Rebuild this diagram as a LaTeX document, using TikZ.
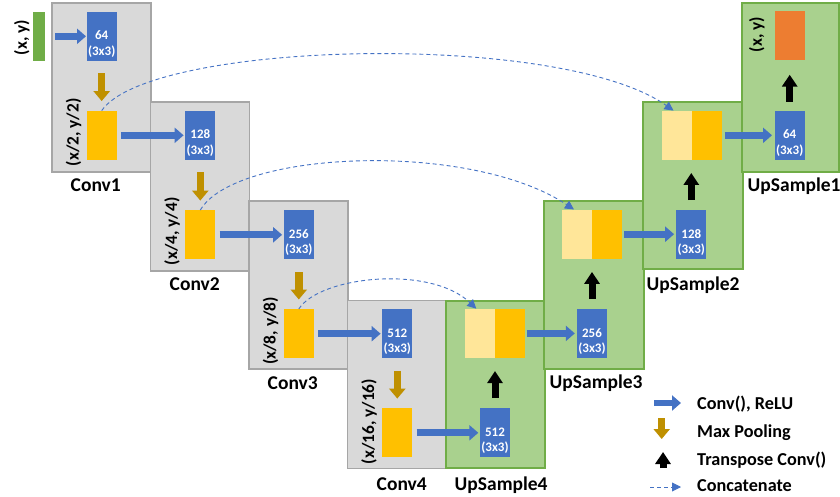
\documentclass[tikz,border=0pt]{standalone}
\usepackage{fontspec}
\setmainfont{Carlito}
\usetikzlibrary{arrows.meta}
\definecolor{cblue}{HTML}{4472C4}
\definecolor{cyel}{HTML}{FFC000}
\definecolor{clight}{HTML}{FFE699}
\definecolor{cbrown}{HTML}{BF9000}
\definecolor{cgreen}{HTML}{A9D18E}
\definecolor{cgreenb}{HTML}{70AD47}
\definecolor{cgrey}{HTML}{D9D9D9}
\definecolor{cgreyb}{HTML}{A6A6A6}
\definecolor{corange}{HTML}{ED7D31}
\newcommand\filtertext[1]{\raisebox{-8pt}[\height][\depth]{\begin{tabular}{@{}c@{}}#1\\(3x3)\end{tabular}}}
\begin{document}
\begin{tikzpicture}[x=1pt,y=-1pt,
  greybox/.style={draw=cgreyb, fill=cgrey, line width=1.6pt, anchor=north west, inner sep=0},
  greenbox/.style={draw=cgreenb, fill=cgreen, line width=1.6pt, anchor=north west, inner sep=0},
  convbox/.style={fill=cblue, minimum width=30pt, minimum height=49pt, inner sep=0, text=white,
     font=\fontsize{13}{15.5}\selectfont\bfseries},
  featbox/.style={fill=cyel, minimum width=30pt, minimum height=49pt, inner sep=0},
  catbox/.style={fill=clight, minimum width=60pt, minimum height=49pt, inner sep=0},
  inbox/.style={fill=cgreenb, minimum width=12pt, minimum height=49pt, inner sep=0},
  outbox/.style={fill=corange, minimum width=30pt, minimum height=49pt, inner sep=0},
  stagelabel/.style={anchor=base west, inner sep=0, font=\fontsize{19.5}{21}\selectfont\bfseries},
  legendlabel/.style={anchor=base west, inner sep=0, font=\fontsize{18.2}{20}\selectfont\bfseries},
  dimlabel/.style={rotate=90, anchor=west, inner sep=0, font=\fontsize{17.3}{20}\selectfont\bfseries},
  convarrow/.style={draw=cblue, line width=7pt, -{Triangle[length=9pt,width=15pt]}},
  poolarrow/.style={draw=cbrown, line width=7.5pt, -{Triangle[length=10pt,width=16pt]}},
  uparrow/.style={draw=black, line width=7pt, -{Triangle[length=12pt,width=15pt]}},
  catarrow/.style={draw=cblue, line width=0.9pt, dash pattern=on 4pt off 3pt, -{Triangle[length=9pt,width=9pt]}},
]
\useasboundingbox (0,0) rectangle (840,497);
% stage boxes
\node[greybox, minimum width=99pt, minimum height=169pt] (c1) at (51,2) {};
\node[greybox, minimum width=99pt, minimum height=169pt] (c2) at (149.5,101) {};
\node[greybox, minimum width=99pt, minimum height=168pt] (c3) at (248,200) {};
\node[greybox, minimum width=98.5pt, minimum height=168pt] (c4) at (346.5,299.5) {};
\node[greenbox, minimum width=99pt, minimum height=167pt] (u4) at (445,300) {};
\node[greenbox, minimum width=100pt, minimum height=168pt] (u3) at (543,200) {};
\node[greenbox, minimum width=100pt, minimum height=167pt] (u2) at (642,101) {};
\node[greenbox, minimum width=97pt, minimum height=169pt] (u1) at (741,2) {};
% stage labels
\node[stagelabel] (lc1) at (70.5,191.5) {Conv1};
\node[stagelabel] (lc2) at (169.5,290) {Conv2};
\node[stagelabel] (lc3) at (267.5,389) {Conv3};
\node[stagelabel] (lc4) at (376.5,490) {Conv4};
\node[stagelabel] (lu4) at (454.5,490) {UpSample4};
\node[stagelabel] (lu3) at (549.5,388.5) {UpSample3};
\node[stagelabel] (lu2) at (646.5,290) {UpSample2};
\node[stagelabel] (lu1) at (747.5,192) {UpSample1};
% inner boxes
\node[inbox] (in) at (39,36.3) {};
\node[dimlabel] (lin) at (21.7,55.5) {(x, y)};
\node[convbox] (b1) at (101.7,36.3) {\filtertext{64}};
\node[featbox] (y1) at (101.7,135.3) {};
\node[dimlabel] (l1) at (73.5,166.5) {(x/2, y/2)};
\node[convbox] (b2) at (200.3,135.3) {\filtertext{128}};
\node[featbox] (y2) at (200.3,234.8) {};
\node[dimlabel] (l2) at (172,265.5) {(x/4, y/4)};
\node[convbox] (b3) at (298.8,234.8) {\filtertext{256}};
\node[featbox] (y3) at (298.8,333.7) {};
\node[dimlabel] (l3) at (270.5,365) {(x/8, y/8)};
\node[convbox] (b4) at (397.3,333.7) {\filtertext{512}};
\node[featbox] (y4) at (397.3,432.8) {};
\node[dimlabel] (l4) at (369,464.5) {(x/16, y/16)};
\node[convbox] (b5) at (495,432.8) {\filtertext{512}};
\node[catbox] (cat4) at (494.5,333.4) {};
\fill[cyel] (cat4.north) rectangle (cat4.south east);
\node[convbox] (b6) at (592,333.7) {\filtertext{256}};
\node[catbox] (cat3) at (592.2,234.2) {};
\fill[cyel] (cat3.north) rectangle (cat3.south east);
\node[convbox] (b7) at (691.3,234.8) {\filtertext{128}};
\node[catbox] (cat2) at (691.7,135.3) {};
\fill[cyel] (cat2.north) rectangle (cat2.south east);
\node[convbox] (b8) at (789.7,135.3) {\filtertext{64}};
\node[outbox] (out) at (789.7,36) {};
\node[dimlabel] (lout) at (756.7,52.5) {(x, y)};
% conv arrows
\draw[convarrow, shorten <=10pt, shorten >=0.5pt] (in.east) -- (in.east -| b1.west);
\draw[convarrow, shorten <=4pt, shorten >=1.5pt] (y1.east) -- (y1.east -| b2.west);
\draw[convarrow, shorten <=4pt, shorten >=1.5pt] (y2.east) -- (y2.east -| b3.west);
\draw[convarrow, shorten <=4pt, shorten >=1.5pt] (y3.east) -- (y3.east -| b4.west);
\draw[convarrow, shorten <=4pt, shorten >=1.5pt] (y4.east) -- (y4.east -| b5.west);
\draw[convarrow, shorten <=2pt, shorten >=2pt] (cat4.east) -- (cat4.east -| b6.west);
\draw[convarrow, shorten <=2pt, shorten >=2pt] (cat3.east) -- (cat3.east -| b7.west);
\draw[convarrow, shorten <=3pt, shorten >=2.5pt] (cat2.east) -- (cat2.east -| b8.west);
% pooling arrows
\draw[poolarrow, shorten <=12.5pt, shorten >=9.5pt] (b1.south) -- (y1.north);
\draw[poolarrow, shorten <=12.5pt, shorten >=9.5pt] (b2.south) -- (y2.north);
\draw[poolarrow, shorten <=12.5pt, shorten >=9.5pt] (b3.south) -- (y3.north);
\draw[poolarrow, shorten <=12.5pt, shorten >=9.5pt] (b4.south) -- (y4.north);
% transpose conv arrows
\draw[uparrow, shorten <=10pt, shorten >=13pt] (b5.north) -- (b5.north |- cat4.south);
\draw[uparrow, shorten <=10pt, shorten >=13pt] (b6.north) -- (b6.north |- cat3.south);
\draw[uparrow, shorten <=10pt, shorten >=13pt] (b7.north) -- (b7.north |- cat2.south);
\draw[uparrow, shorten <=9pt, shorten >=14pt] (b8.north) -- (b8.north |- out.south);
% concatenation arcs
\draw[catarrow] (y1.north) .. controls +(48,-70) and +(-113,-80) .. ([xshift=12pt]cat2.north west);
\draw[catarrow] (y2.north) .. controls +(35,-60) and +(-104,-69) .. ([xshift=12pt]cat3.north west);
\draw[catarrow] (y3.north) .. controls +(21,-33) and +(-46,-44) .. ([xshift=12pt]cat4.north west);
% legend
\coordinate (lg1a) at (654,403); \coordinate (lg1b) at (681,403);
\coordinate (lg2a) at (661.7,418); \coordinate (lg2b) at (661.7,439);
\coordinate (lg3a) at (663,468); \coordinate (lg3b) at (663,452);
\coordinate (lg4a) at (650,487); \coordinate (lg4b) at (681,487);
\draw[convarrow, line width=6.5pt] (lg1a) -- (lg1b);
\draw[poolarrow] (lg2a) -- (lg2b);
\draw[uparrow] (lg3a) -- (lg3b);
\draw[catarrow] (lg4a) -- (lg4b);
\node[legendlabel] (t1) at (697,409.5) {Conv(), ReLU};
\node[legendlabel] (t2) at (697,437) {Max Pooling};
\node[legendlabel] (t3) at (697,465.7) {Transpose Conv()};
\node[legendlabel] (t4) at (697,491.7) {Concatenate};
\end{tikzpicture}
\end{document}
